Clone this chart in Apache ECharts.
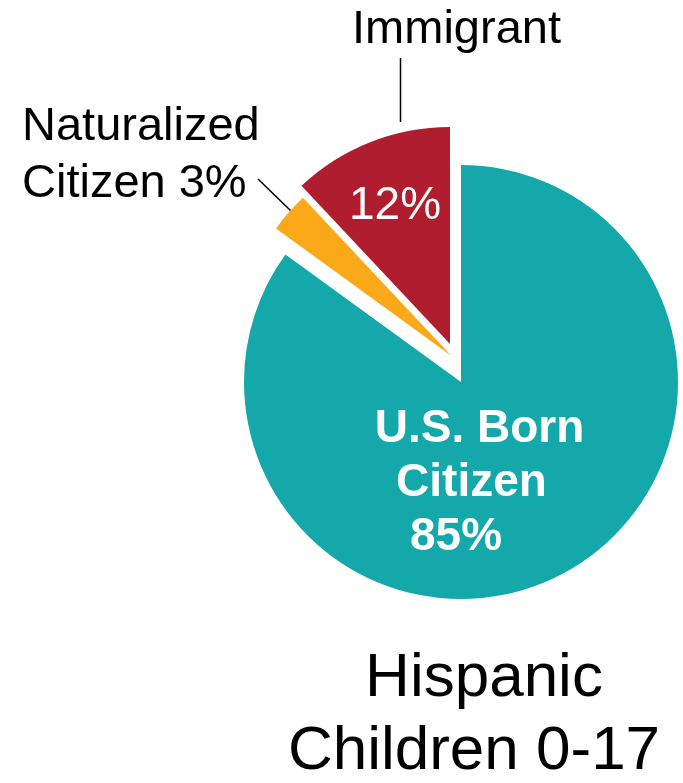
<!DOCTYPE html>
<html><head><meta charset="utf-8">
<script src="https://cdn.jsdelivr.net/npm/echarts@6/dist/echarts.min.js"></script>
<style>html,body{margin:0;padding:0;background:#fff}#c{width:683px;height:783px}</style>
</head><body><div id="c"></div>
<script>
// ---- data ----
const categories = ['U.S. Born Citizen', 'Naturalized Citizen', 'Immigrant'];
const shares = [85, 3, 12];
const titleLines = ['Hispanic', 'Children 0-17'];

// ---- styling / layout ----
const colors = ['#15A8AA', '#FBA919', '#AF1D2E'];
const FONT = '"Liberation Sans", Arial, Helvetica, sans-serif';
const R = 217;
const centers = [[461, 382], [451.5, 356], [450, 344]]; // exploded pieces

const chart = echarts.init(document.getElementById('c'), null, {renderer: 'canvas'});

function pieSeries(idx, showFill, label, labelLine, layoutFn) {
  return {
    type: 'pie',
    center: centers[idx],
    radius: R,
    startAngle: 90,
    clockwise: true,
    avoidLabelOverlap: false,
    silent: true,
    animation: false,
    emphasis: {disabled: true},
    labelLayout: function (p) {
      if (p.dataIndex !== idx) return {};
      return layoutFn(p);
    },
    data: categories.map(function (name, i) {
      const mine = i === idx;
      return {
        name: name,
        value: shares[i],
        itemStyle: {color: mine && showFill ? colors[i] : 'rgba(0,0,0,0)'},
        label: mine ? label : {show: false},
        labelLine: mine && labelLine ? labelLine : {show: false}
      };
    })
  };
}

const blackLine = {show: true, lineStyle: {color: '#000', width: 1.5}, smooth: false};

const option = {
  backgroundColor: '#fff',
  title: {
    text: '{a|' + titleLines[0] + '}\n{b|' + titleLines[1] + '}',
    left: 474, top: 715,
    textAlign: 'center', textVerticalAlign: 'middle',
    padding: 0,
    textStyle: {
      fontWeight: 'normal',
      rich: {
        a: {fontFamily: FONT, fontWeight: 'normal', fontSize: 62, lineHeight: 73, color: '#000', align: 'center', padding: [0, 0, 0, 20]},
        b: {fontFamily: FONT, fontWeight: 'normal', fontSize: 62, lineHeight: 73, color: '#000', align: 'center'}
      }
    }
  },
  series: [
    // U.S. Born Citizen
    pieSeries(0, true, {
      show: true, position: 'inside',
      formatter: function (p) {
        const parts = p.name.split(' ');
        return '{a|' + parts.slice(0, 2).join(' ') + '}\n{b|' + parts.slice(2).join(' ') + '}\n{c|' + p.value + '%}';
      },
      rich: {
        a: {fontFamily: FONT, fontWeight: 'bold', fontSize: 46, lineHeight: 54, color: '#fff', align: 'center', padding: [0, 0, 0, 16]},
        b: {fontFamily: FONT, fontWeight: 'bold', fontSize: 46, lineHeight: 54, color: '#fff', align: 'center'},
        c: {fontFamily: FONT, fontWeight: 'bold', fontSize: 46, lineHeight: 54, color: '#fff', align: 'center', padding: [0, 31, 0, 0]}
      }
    }, null, function () {
      return {x: 471.5, y: 483, align: 'center', verticalAlign: 'middle'};
    }),
    // Naturalized Citizen
    pieSeries(1, true, {
      show: true, position: 'outside',
      formatter: function (p) {
        const parts = p.name.split(' ');
        return parts[0] + '\n' + parts.slice(1).join(' ') + ' ' + p.value + '%';
      },
      fontFamily: FONT, fontSize: 47, lineHeight: 57, color: '#000', align: 'left'
    }, blackLine, function () {
      return {x: 22, y: 156, align: 'left', verticalAlign: 'middle',
        labelLinePoints: [[291, 211], [274.5, 195], [258, 179]]};
    }),
    // Immigrant slice with inner value
    pieSeries(2, true, {
      show: true, position: 'inside',
      formatter: function (p) { return p.value + '%'; },
      fontFamily: FONT, fontSize: 46, color: '#fff'
    }, null, function () {
      return {x: 395, y: 206, align: 'center', verticalAlign: 'middle'};
    }),
    // Immigrant outside category label
    pieSeries(2, false, {
      show: true, position: 'outside',
      formatter: function (p) { return p.name; },
      fontFamily: FONT, fontSize: 47, color: '#000'
    }, blackLine, function () {
      return {x: 456.5, y: 30, align: 'center', verticalAlign: 'middle',
        labelLinePoints: [[400.5, 122], [400.5, 90], [400.5, 58]]};
    })
  ]
};
chart.setOption(option);
</script>
</body></html>
